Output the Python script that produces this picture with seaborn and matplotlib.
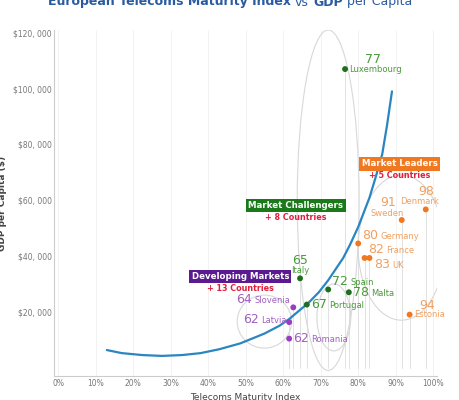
import matplotlib
matplotlib.use("Agg")
import matplotlib.pyplot as plt
import seaborn as sns
import pandas as pd
from matplotlib.patches import Ellipse
from matplotlib.offsetbox import TextArea, HPacker, AnnotationBbox

countries = ["Luxembourg","Denmark","Sweden","Germany","France","UK","Estonia",
             "Italy","Spain","Malta","Portugal","Slovenia","Latvia","Romania"]
maturity = [76.5, 98, 91.6, 80, 81.7, 83, 93.7, 64.5, 72, 77.5, 66.3, 62.7, 61.6, 61.6]
gdp = [107000, 56700, 52900, 44500, 39300, 39300, 19000, 32000, 28000, 27000, 22600, 21600, 16300, 10400]
scores = [77, 98, 91, 80, 82, 83, 94, 65, 72, 78, 67, 64, 62, 62]
group = ["Challenger","Leader","Leader","Leader","Leader","Leader","Leader",
         "Challenger","Challenger","Challenger","Challenger","Developing","Developing","Developing"]
curve_x = [13, 17, 22.5, 27.7, 33, 38, 43, 48.6, 55, 59, 61.6, 66.8, 69.5, 72, 76, 77.8, 80, 83, 84.6, 86.4, 87.7, 89]
curve_y = [6300, 5200, 4500, 4200, 4500, 5200, 6600, 8700, 12200, 15000, 17400, 23300, 27000, 31300, 39300, 44000,
           50400, 60900, 68000, 76500, 87000, 99000]

df = pd.DataFrame(dict(country=countries, x=maturity, y=gdp, score=scores, group=group))
pal = {"Leader": "#f07820", "Challenger": "#1f6e1f", "Developing": "#9a3cc0"}
lab = {"Leader": "#f0a060", "Challenger": "#4a9a3a", "Developing": "#a060c0"}

sns.set_style("white")
fig, ax = plt.subplots(figsize=(4.6, 4.0), dpi=100)
fig.subplots_adjust(left=0.118, right=0.95, top=0.925, bottom=0.06)

for v in range(0, 101, 10):
    ax.axvline(v, color="#f0f0f0", lw=0.6, zorder=0)
for xv, yv in zip(maturity, gdp):
    ax.plot([xv, xv], [0, yv], color="#dddddd", lw=0.6, zorder=1)

for c, w, h in [((72, 60000), 16.5, 122000), ((55, 16500), 14.5, 19000), ((91.5, 43000), 23, 52000), ((73.5, 18000), 9, 24000)]:
    ax.add_patch(Ellipse(c, w, h, fill=False, ec="#d8d8d8", lw=0.8, zorder=1))

sns.lineplot(x=curve_x, y=curve_y, ax=ax, color="#2a86c0", lw=1.6, zorder=3)
sns.scatterplot(data=df, x="x", y="y", hue="group", palette=pal, s=18, ax=ax, legend=False, zorder=4, edgecolor="none")

PX = 0.72  # points per pixel
def pack(score, name, col):
    return HPacker(children=[TextArea(str(score), textprops=dict(fontsize=9, color=col)),
                             TextArea(name, textprops=dict(fontsize=6, color=col))],
                   align="baseline", pad=0, sep=1.5)

def place(box, xy, dx, dy, align):
    ab = AnnotationBbox(box, xy, xybox=(dx * PX, dy * PX), boxcoords="offset points",
                        box_alignment=align, frameon=False, pad=0, zorder=5)
    ax.add_artist(ab)

# layouts in pixels relative to the dot
inline = {"Germany": (4, 8, (0, 0.5)), "France": (4, 8, (0, 0.5)), "UK": (5, -7, (0, 0.5)),
          "Spain": (4, 8, (0, 0.5)), "Malta": (4, 0, (0, 0.5)), "Portugal": (4, 0, (0, 0.5)),
          "Romania": (4, 0, (0, 0.5)), "Slovenia": (-3, 8, (1, 0.5)), "Latvia": (-3, 3, (1, 0.5))}
stacked = {"Luxembourg": ((28, 10), (4, 0, 0)), "Denmark": ((0, 18), (-6, 8, 0.5)),
           "Sweden": ((-14, 18), (-15, 7, 0.5)), "Italy": ((0, 18), (0, 8, 0.5)),
           "Estonia": ((18, 9), (5, 0, 0))}
for _, r in df.iterrows():
    c = lab[r.group]
    if r.country in inline:
        dx, dy, al = inline[r.country]
        place(pack(r.score, r.country, c), (r.x, r.y), dx, dy, al)
    else:
        (sx, sy), (nx, ny, nal) = stacked[r.country]
        place(TextArea(str(r.score), textprops=dict(fontsize=9, color=c)), (r.x, r.y), sx, sy, (0.5, 0.5))
        place(TextArea(r.country, textprops=dict(fontsize=6, color=c)), (r.x, r.y), nx, ny, (nal, 0.5))

boxes = [("Market Leaders", "+ 5 Countries", 91, 73000, "#f07820"),
         ("Market Challengers", "+ 8 Countries", 63.4, 58000, "#1a7a1a"),
         ("Developing Markets", "+ 13 Countries", 48.6, 32700, "#5a1a90")]
for t, s, xx, yy, col in boxes:
    ax.text(xx, yy, t, fontsize=6.2, fontweight="bold", color="white", ha="center", va="center",
            bbox=dict(boxstyle="square,pad=0.25", fc=col, ec="none"), zorder=6)
    ax.text(xx, yy - 4300, s, fontsize=5.8, fontweight="bold", color="#e02040", ha="center", va="center", zorder=6)

ax.set_xlim(-1, 101)
ax.set_ylim(-3000, 121000)
ax.set_xticks(range(0, 101, 10))
ax.set_xticklabels([f"{v}%" for v in range(0, 101, 10)], fontsize=5.5, color="#777777")
ax.set_yticks(range(20000, 120001, 20000))
ax.set_yticklabels([f"${v//1000}, 000" for v in range(20000, 120001, 20000)], fontsize=5.5, color="#777777")
ax.set_ylabel("GDP per Capita ($)", fontsize=6.5, fontweight="bold", color="#444444")
ax.set_xlabel("Telecoms Maturity Index", fontsize=6.5, color="#444444")
ax.tick_params(length=0, pad=2)
sns.despine(ax=ax, top=True, right=True)
for sp in ("left", "bottom"):
    ax.spines[sp].set_color("#cccccc")

tc = "#2a5aa0"
title = HPacker(children=[TextArea("European Telecoms Maturity Index", textprops=dict(fontsize=9, fontweight="bold", color=tc)),
                          TextArea("vs", textprops=dict(fontsize=9, color=tc)),
                          TextArea("GDP", textprops=dict(fontsize=9, fontweight="bold", color=tc)),
                          TextArea("per Capita", textprops=dict(fontsize=9, color=tc))],
                align="baseline", pad=0, sep=3)
fig.add_artist(AnnotationBbox(title, (0.5, 0.995), xycoords="figure fraction", box_alignment=(0.5, 0.5),
                              frameon=False, pad=0))
fig.savefig("out.png", dpi=100)
